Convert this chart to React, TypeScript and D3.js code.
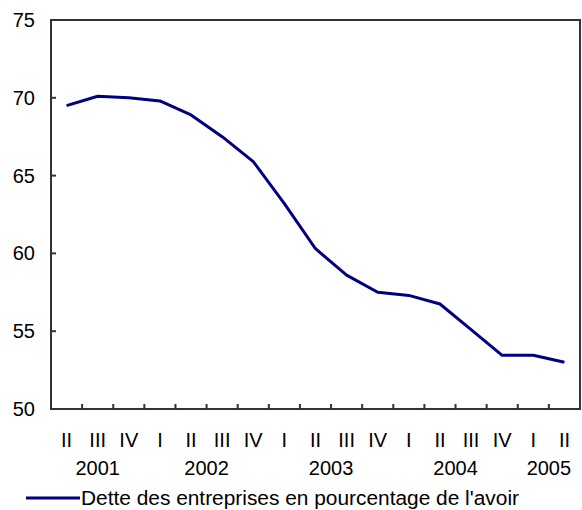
import React from 'react';
import * as d3 from 'd3';

const quarters = ['II', 'III', 'IV', 'I', 'II', 'III', 'IV', 'I', 'II', 'III', 'IV', 'I', 'II', 'III', 'IV', 'I', 'II'];
const years = ['2001', '2001', '2001', '2002', '2002', '2002', '2002', '2003', '2003', '2003', '2003', '2004', '2004', '2004', '2004', '2005', '2005'];
const debtRatio = [69.5, 70.1, 70.0, 69.8, 68.9, 67.5, 65.9, 63.2, 60.3, 58.6, 57.5, 57.3, 56.75, 55.1, 53.45, 53.45, 53.0];
const yTicks = [50, 55, 60, 65, 70, 75];
const legendLabel = "Dette des entreprises en pourcentage de l'avoir";

const App: React.FC = () => {
  const width = 582;
  const height = 510;
  const margin = { top: 20, right: 2, bottom: 101, left: 51 };
  const font = "'Liberation Sans', Arial, sans-serif";
  const fontSize = 20;

  const keys = quarters.map((_, i) => i);
  const xScale = d3.scaleBand<number>().domain(keys).range([margin.left, width - margin.right]);
  const yScale = d3.scaleLinear().domain([50, 75]).range([height - margin.bottom, margin.top]);
  const bw = xScale.bandwidth();
  const cx = (i: number) => (xScale(i) || 0) + bw / 2;

  const line = d3.line<number>()
    .x((_, i) => cx(i))
    .y(d => yScale(d));

  // group quarters by year for the second label row
  const yearGroups = d3.groups(keys, i => years[i]).map(([yr, idx]) => ({
    yr,
    x: d3.mean(idx.map(cx)) || 0,
  }));

  const bottom = yScale(50);
  const top = yScale(75);

  return (
    <svg width={width} height={height} style={{ position: 'absolute', left: 0, top: 0, background: '#fff' }} fontFamily={font}>
      <rect x={margin.left} y={top} width={width - margin.right - margin.left} height={bottom - top} fill="none" stroke="#333" strokeWidth="2" />

      {yTicks.map(t => (
        <g key={t}>
          {t !== 50 && t !== 75 && (
            <line x1={margin.left} x2={margin.left + 5} y1={yScale(t)} y2={yScale(t)} stroke="#333" strokeWidth="2" />
          )}
          <text x={35} y={yScale(t)} dy="0.35em" textAnchor="end" fontSize={fontSize} fill="#000">{t}</text>
        </g>
      ))}

      {keys.slice(1).map(i => (
        <line key={i} x1={xScale(i)} x2={xScale(i)} y1={bottom} y2={bottom - 5} stroke="#333" strokeWidth="2" />
      ))}

      {quarters.map((q, i) => (
        <text key={i} x={cx(i)} y={447} textAnchor="middle" fontSize={fontSize} fill="#000">{q}</text>
      ))}

      {yearGroups.map(g => (
        <text key={g.yr} x={g.x} y={475} textAnchor="middle" fontSize={fontSize} fill="#000">{g.yr}</text>
      ))}

      <path d={line(debtRatio) || ''} fill="none" stroke="#000080" strokeWidth="3" strokeLinejoin="round" />

      <line x1={26} x2={80} y1={498} y2={498} stroke="#000080" strokeWidth="3" />
      <text x={81} y={505} fontSize={fontSize} fill="#000" textLength={438} lengthAdjust="spacingAndGlyphs">{legendLabel}</text>
    </svg>
  );
};

export default App;
